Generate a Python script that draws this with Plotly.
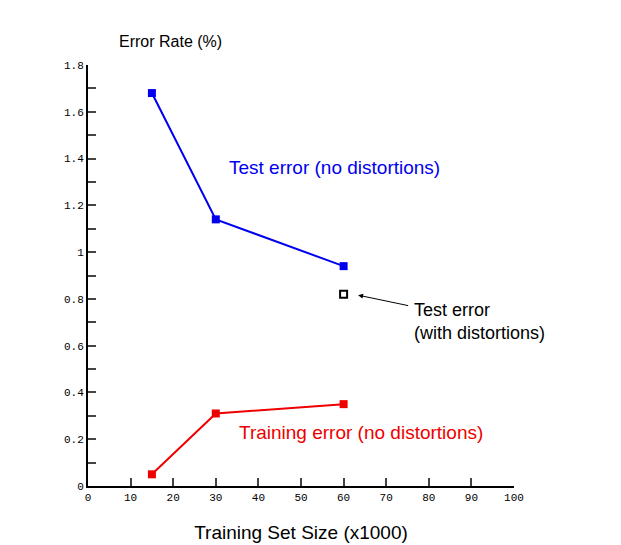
import plotly.graph_objects as go

sizes = [15, 30, 60]
test_err = [1.68, 1.14, 0.94]
train_err = [0.05, 0.31, 0.35]
dist_x = [60]
dist_err = [0.82]
x_ticks = list(range(0, 101, 10))
y_ticks = [round(i * 0.1, 1) for i in range(19)]
y_labels = [("0" if v == 0 else ("1" if v == 1 else f"{v:g}")) if i % 2 == 0 else "" for i, v in enumerate(y_ticks)]

fig = go.Figure()
fig.add_trace(go.Scatter(x=sizes, y=test_err, mode="lines+markers",
                         line=dict(color="#0000ee", width=2),
                         marker=dict(symbol="square", size=8, color="#0000ee")))
fig.add_trace(go.Scatter(x=sizes, y=train_err, mode="lines+markers",
                         line=dict(color="#ee0000", width=2),
                         marker=dict(symbol="square", size=8, color="#ee0000")))
fig.add_trace(go.Scatter(x=dist_x, y=dist_err, mode="markers",
                         marker=dict(symbol="square-open", size=7, color="black", line=dict(width=2))))

fig.add_annotation(x=32.6, y=1.36, text="Test error (no distortions)", showarrow=False,
                   xanchor="left", font=dict(color="#0000ee", size=19, family="Liberation Sans"))
fig.add_annotation(x=35, y=0.23, text="Training error (no distortions)", showarrow=False,
                   xanchor="left", font=dict(color="#ee0000", size=19, family="Liberation Sans"))
fig.add_annotation(x=76, y=0.705, text="Test error<br>(with distortions)", showarrow=False,
                   xanchor="left", align="left",
                   font=dict(color="black", size=18, family="Liberation Sans"))
fig.add_annotation(x=63.4, y=0.816, ax=75.5, ay=0.77, axref="x", ayref="y", text="",
                   showarrow=True, arrowhead=2, arrowsize=1, arrowwidth=1, arrowcolor="black")

fig.update_layout(
    width=621, height=545, showlegend=False,
    paper_bgcolor="white", plot_bgcolor="white",
    margin=dict(l=80, r=115, t=57, b=67),
    xaxis=dict(range=[0, 100], tickvals=x_ticks, ticks="inside", ticklen=8, tickwidth=2, automargin=False,
               showgrid=False, zeroline=False, showline=True, linecolor="black", linewidth=2,
               tickfont=dict(family="Liberation Mono", size=11, color="black"),
               title=dict(text="Training Set Size (x1000)", font=dict(size=19, family="Liberation Sans", color="black"), standoff=22)),
    yaxis=dict(range=[0, 1.8], tickvals=y_ticks, ticktext=y_labels, ticks="inside", ticklen=8, tickwidth=2, automargin=False,
               showgrid=False, zeroline=False, showline=True, linecolor="black", linewidth=2,
               tickfont=dict(family="Liberation Mono", size=11, color="black")),
)
fig.add_annotation(xref="paper", yref="paper", x=(109 - 80) / 426, y=1.03, xanchor="left", yanchor="bottom",
                   text="Error Rate (%)", showarrow=False,
                   font=dict(size=16, family="Liberation Sans", color="black"))
fig.write_html("out.html")
